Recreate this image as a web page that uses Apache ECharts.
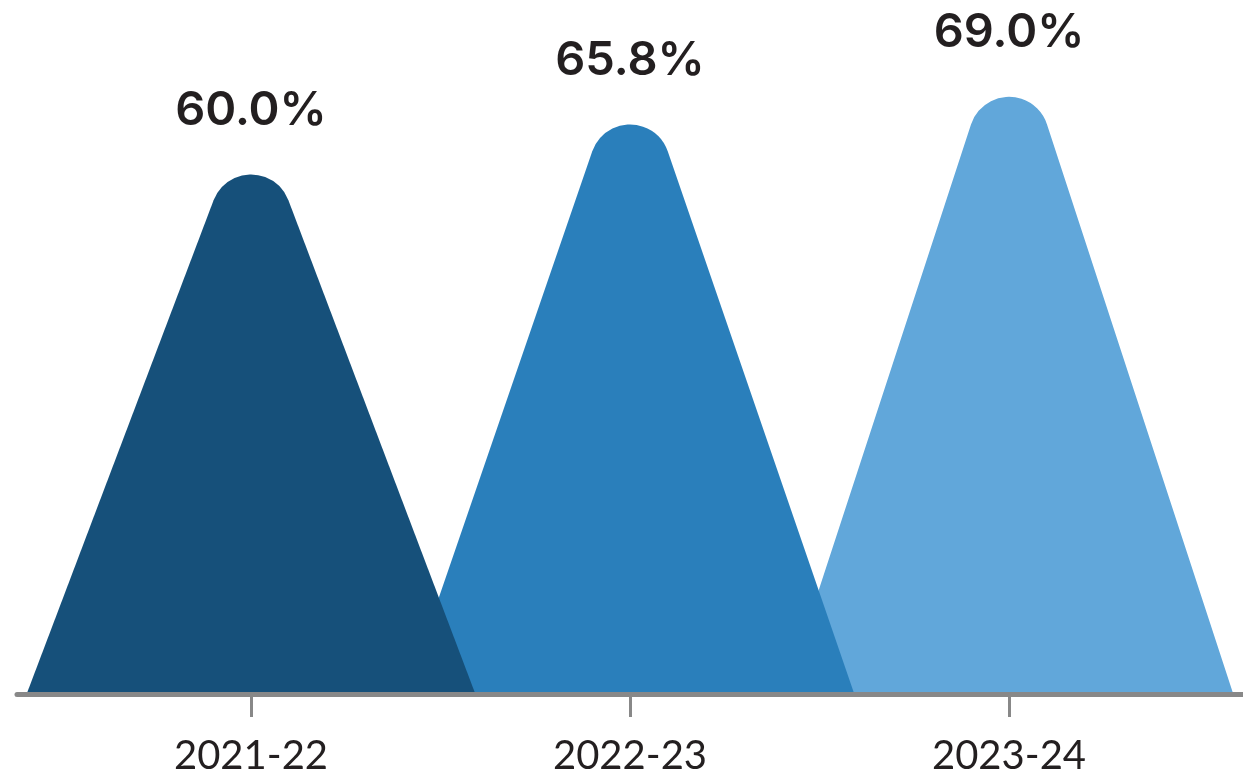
<!DOCTYPE html>
<html>
<head>
<meta charset="utf-8">
<script src="https://cdn.jsdelivr.net/npm/echarts@6/dist/echarts.min.js"></script>
<style>
html,body{margin:0;padding:0;background:#fff;}
#chart{width:1243px;height:782px;}
</style>
</head>
<body>
<div id="chart"></div>
<script>
var categories = ['2021-22', '2022-23', '2023-24'];
var values = [60.0, 65.8, 69.0];
var valueLabels = ['60.0%', '65.8%', '69.0%'];
var colors = ['#16507a', '#2a7fbb', '#61a7da'];

var WIDTH_RATIO = 1.18;   // base width relative to category band
var CAP_R = 40;           // radius of rounded peak (px)
var LABEL_GAP = 64;       // px from peak to label centre

var chart = echarts.init(document.getElementById('chart'));

function renderItem(params, api) {
  var idx = api.value(0);
  var val = api.value(1);
  var top = api.coord([idx, val]);
  var base = api.coord([idx, 0]);
  var band = api.size([1, 0])[0];
  var hw = band * WIDTH_RATIO / 2;
  var x0 = top[0], yt = top[1], yb = base[1];
  var cx = x0, cy = yt + CAP_R;
  var dx = hw, dy = yb - cy;
  var d = Math.sqrt(dx * dx + dy * dy);
  var theta = Math.atan2(dy, dx);
  var alpha = Math.acos(CAP_R / d);
  var a = theta - alpha;
  var tx = CAP_R * Math.cos(a), ty = CAP_R * Math.sin(a);
  var path = 'M' + (x0 - hw) + ',' + yb +
    ' L' + (cx - tx) + ',' + (cy + ty) +
    ' A' + CAP_R + ',' + CAP_R + ' 0 0 1 ' + (cx + tx) + ',' + (cy + ty) +
    ' L' + (x0 + hw) + ',' + yb + ' Z';
  return {
    type: 'group',
    z2: 10 - idx,
    children: [{
      type: 'path',
      z2: 10 - idx,
      shape: { pathData: path },
      style: { fill: colors[idx] }
    }, {
      type: 'text',
      z2: 20,
      style: {
        text: valueLabels[idx],
        x: x0,
        y: yt - LABEL_GAP,
        align: 'center',
        verticalAlign: 'middle',
        fill: '#231f20',
        font: '600 47px Inter'
      }
    }]
  };
}

var option = {
  animation: false,
  grid: [
    { left: 61.5, right: 44.5, top: 2, bottom: 90 },
    { left: 17, right: 0, top: 2, bottom: 87.5 }
  ],
  xAxis: [{
    type: 'category',
    gridIndex: 0,
    data: categories,
    axisLine: { show: false },
    axisTick: { show: true, alignWithLabel: true, length: 25, lineStyle: { color: '#888', width: 3 } },
    axisLabel: { color: '#231f20', fontSize: 40, fontFamily: 'Lato', margin: 44 },
    splitLine: { show: false }
  }, {
    type: 'category',
    gridIndex: 1,
    data: [],
    axisLine: { show: true, lineStyle: { color: '#888', width: 5 } },
    axisTick: { show: false },
    axisLabel: { show: false }
  }],
  yAxis: [{
    type: 'value', gridIndex: 0, min: 0, max: 80,
    show: false, splitLine: { show: false }
  }, {
    type: 'value', gridIndex: 1, show: false, splitLine: { show: false }
  }],
  series: [{
    type: 'custom',
    xAxisIndex: 0,
    yAxisIndex: 0,
    z: 3,
    renderItem: renderItem,
    data: categories.map(function (c, i) { return [i, values[i]]; })
  }]
};
chart.setOption(option);
</script>
</body>
</html>
